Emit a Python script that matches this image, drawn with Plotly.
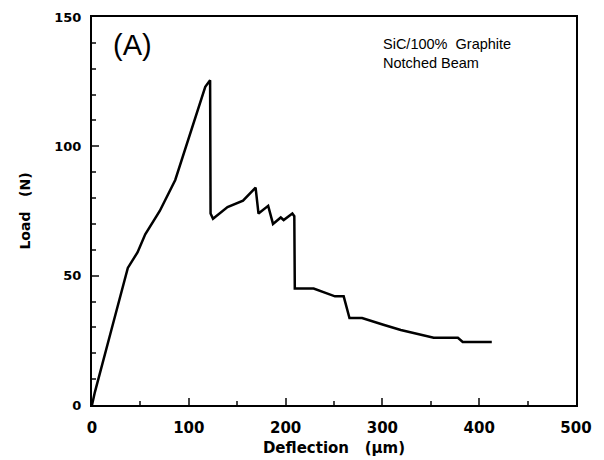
import plotly.graph_objects as go

deflection = [0, 3, 20, 37, 47, 55, 70, 86, 117, 122, 122.5, 125, 140, 156, 169, 172, 182, 187, 195, 198, 207, 209, 209.5, 229, 251, 260, 266, 279, 301, 319, 353, 378, 383, 413]
load = [0, 5, 29, 53, 59, 66, 75, 87, 123, 125.5, 74, 72, 76.5, 79, 84, 74, 77, 70, 72.5, 71.5, 74, 73, 45, 45, 42, 42, 33.6, 33.6, 31, 29, 26, 26, 24.4, 24.4]

x_ticks = [0, 100, 200, 300, 400, 500]
y_ticks = [0, 50, 100, 150]

FONT = "Liberation Sans, Arial, Helvetica, sans-serif"
TICKFONT = "DejaVu Sans, Liberation Sans, sans-serif"

fig = go.Figure()
fig.add_trace(go.Scatter(x=deflection, y=load, mode="lines",
                         line=dict(color="black", width=2.5), showlegend=False))

# the page body has an 8px margin, so the margins are shifted by 8px
fig.update_layout(
    width=604, height=460,
    margin=dict(l=84, r=36, t=9, b=63),
    paper_bgcolor="white", plot_bgcolor="white",
    font=dict(family=FONT, color="black", size=13),
    xaxis=dict(range=[0, 500], tickvals=x_ticks, ticks="inside", ticklen=7, tickwidth=1.5,
               showline=True, linewidth=2, linecolor="black", mirror=True, showgrid=False, zeroline=False,
               automargin=False, ticklabelstandoff=8,
               tickfont=dict(family=TICKFONT, size=15, weight="bold"),
               minor=dict(dtick=50, ticks="inside", ticklen=4, tickwidth=1.5, showgrid=False),
               title=dict(text="Deflection   (µm)", font=dict(family=TICKFONT, size=15, weight="bold"), standoff=6)),
    yaxis=dict(range=[0, 150], tickvals=y_ticks, ticks="inside", ticklen=7, tickwidth=1.5,
               showline=True, linewidth=2, linecolor="black", mirror=True, showgrid=False, zeroline=False,
               automargin=False, ticklabelstandoff=6,
               tickfont=dict(family=TICKFONT, size=13, weight="bold"),
               minor=dict(dtick=10, ticks="inside", ticklen=4, tickwidth=1.5, showgrid=False),
               title=dict(text="Load   (N)", font=dict(family=TICKFONT, size=14, weight="bold"), standoff=20)),
)

fig.add_annotation(x=0.04, y=0.975, xref="paper", yref="paper", xanchor="left", yanchor="top",
                   text="(A)", showarrow=False, font=dict(family=FONT, size=29, color="black"))
fig.add_annotation(x=0.597, y=0.955, xref="paper", yref="paper", xanchor="left", yanchor="top",
                   text="SiC/100%  Graphite<br>Notched Beam", align="left", showarrow=False,
                   font=dict(family=FONT, size=14.5, color="black"))

fig.write_html("out.html")
